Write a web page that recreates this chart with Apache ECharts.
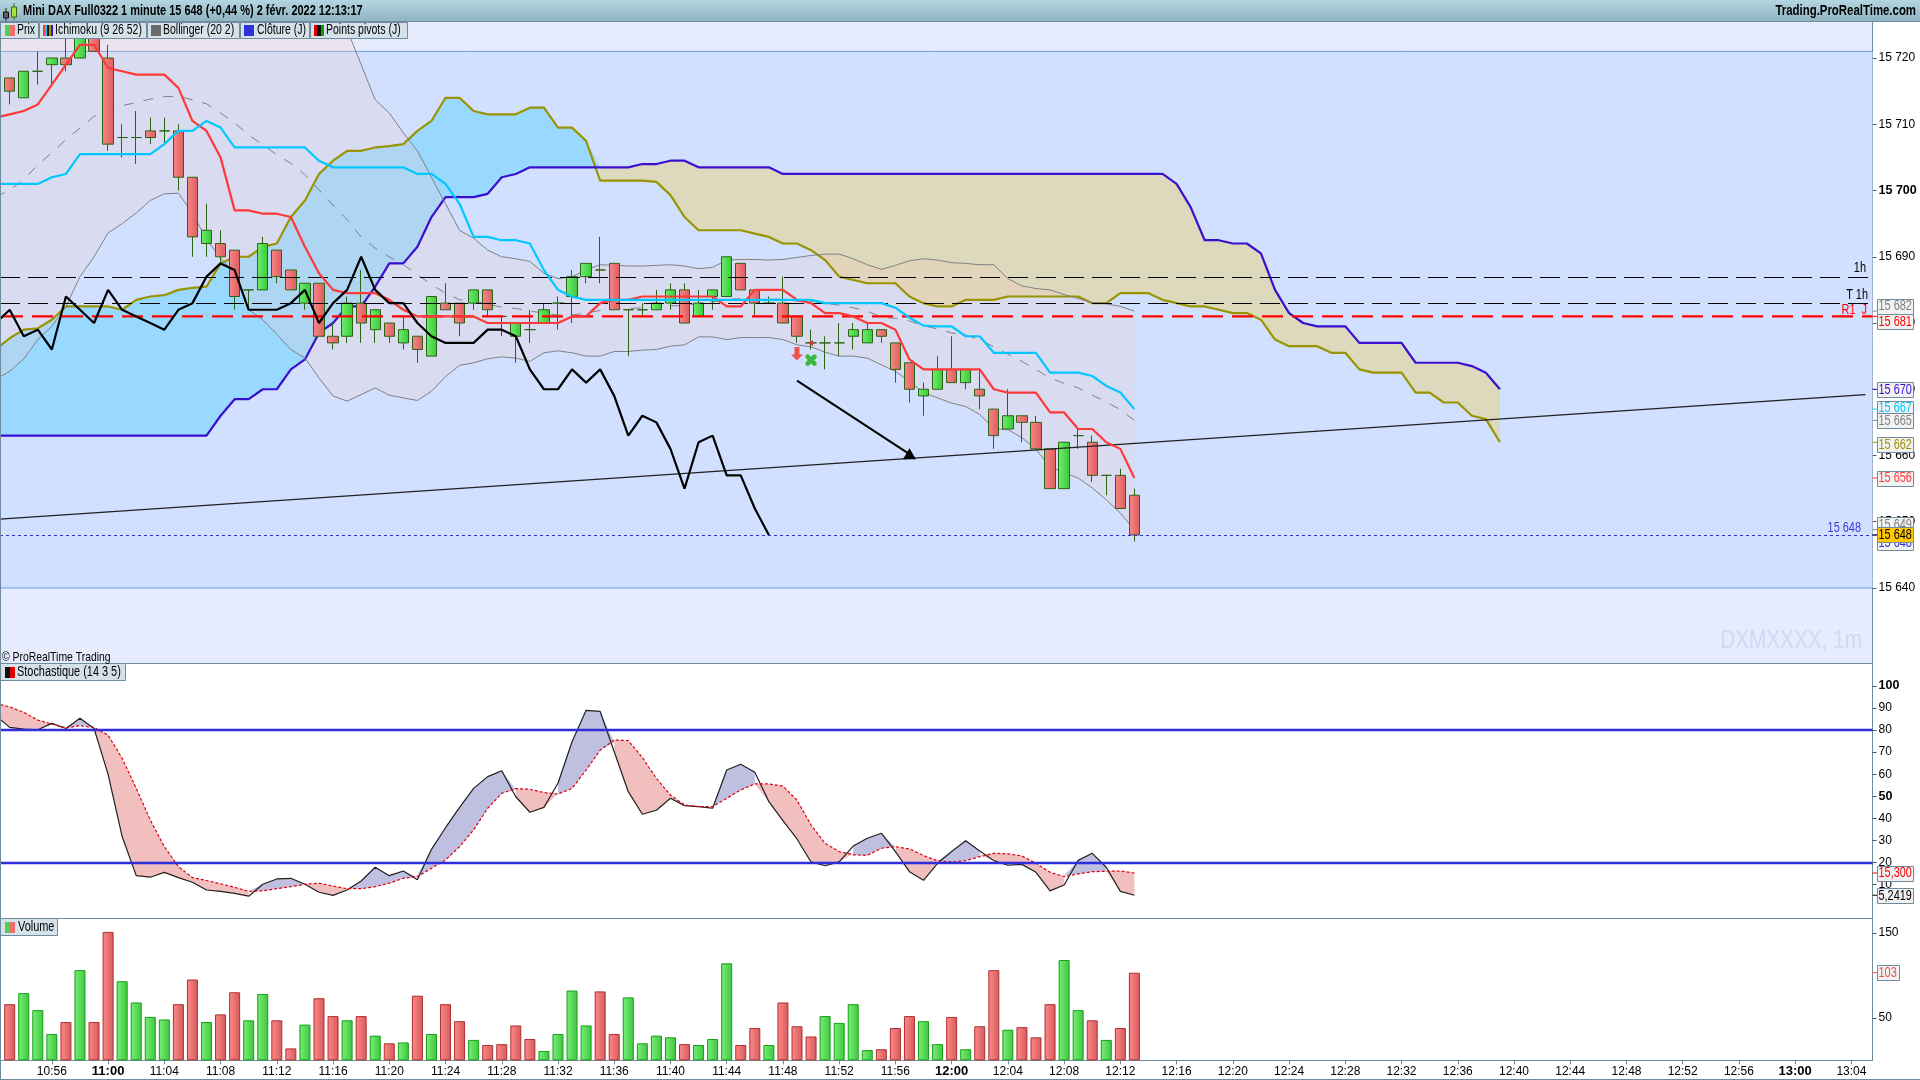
<!DOCTYPE html>
<html><head><meta charset="utf-8"><title>Mini DAX</title>
<style>html,body{margin:0;padding:0;background:#fff}#c{width:1920px;height:1080px}</style>
<script src="https://cdn.jsdelivr.net/npm/echarts@6/dist/echarts.min.js"></script></head>
<body><div id="c"></div>
<script>
const timeLabels=['10:52','10:53','10:54','10:55','10:56','10:57','10:58','10:59','11:00','11:01','11:02','11:03','11:04','11:05','11:06','11:07','11:08','11:09','11:10','11:11','11:12','11:13','11:14','11:15','11:16','11:17','11:18','11:19','11:20','11:21','11:22','11:23','11:24','11:25','11:26','11:27','11:28','11:29','11:30','11:31','11:32','11:33','11:34','11:35','11:36','11:37','11:38','11:39','11:40','11:41','11:42','11:43','11:44','11:45','11:46','11:47','11:48','11:49','11:50','11:51','11:52','11:53','11:54','11:55','11:56','11:57','11:58','11:59','12:00','12:01','12:02','12:03','12:04','12:05','12:06','12:07','12:08','12:09','12:10','12:11','12:12','12:13','12:14','12:15','12:16','12:17','12:18','12:19','12:20','12:21','12:22','12:23','12:24','12:25','12:26','12:27','12:28','12:29','12:30','12:31','12:32','12:33','12:34','12:35','12:36','12:37','12:38','12:39','12:40','12:41','12:42','12:43','12:44','12:45','12:46','12:47','12:48','12:49','12:50','12:51','12:52','12:53','12:54','12:55','12:56','12:57','12:58','12:59','13:00','13:01','13:02','13:03','13:04','13:05'];
// candles: index 0 is 10:52 (off-screen)
const opens=[null,15717,15714,15718,15719,15720,15720,15724,15720,15708,15708,15709,15709,15709,15702,15692,15692,15691,15685,15685,15691,15688,15683,15686,15678,15678,15683,15679,15680,15677,15678,15675,15683,15683,15683,15685,15681,15678,15679,15680,15683,15684,15687,15688,15689,15682,15682,15682,15683,15685,15681,15684,15684,15689,15685,15683,15683,15681,15677,15677,15677,15678,15677,15679,15677,15674,15669,15670,15673,15671,15670,15667,15664,15666,15665,15661,15655,15663,15662,15657,15657,15654];
const closes=[null,15715,15718,15718,15720,15719,15724,15721,15707,15708,15708,15708,15709,15702,15693,15694,15690,15684,15685,15692,15687,15685,15686,15678,15677,15683,15680,15682,15678,15679,15676,15684,15682,15680,15685,15682,15681,15680,15679,15682,15683,15687,15689,15688,15682,15682,15682,15683,15685,15680,15683,15685,15690,15685,15683,15683,15680,15678,15677,15677,15677,15679,15679,15678,15673,15670,15670,15673,15671,15673,15669,15663,15666,15665,15661,15655,15662,15663,15657,15657,15652,15648];
const lows=[null,15713,15714,15716,15716,15718,15720,15721,15706,15705,15704,15707,15707,15700,15690,15690,15689,15682,15682,15685,15686,15685,15682,15678,15676,15677,15677,15677,15677,15676,15674,15675,15682,15678,15682,15681,15678,15674,15677,15680,15679,15680,15686,15686,15682,15675,15681,15682,15682,15680,15681,15682,15684,15685,15681,15683,15680,15677,15676,15673,15675,15676,15677,15677,15671,15668,15666,15670,15671,15670,15667,15661,15664,15662,15661,15655,15655,15661,15656,15654,15652,15647];
const highs=[null,15717,15718,15721,15720,15723,15726,15726,15722,15710,15712,15711,15711,15710,15702,15698,15694,15691,15685,15693,15691,15688,15686,15686,15680,15684,15688,15682,15680,15681,15678,15684,15686,15683,15685,15685,15681,15680,15682,15683,15684,15688,15689,15693,15689,15682,15683,15685,15686,15686,15685,15685,15690,15689,15685,15684,15687,15681,15679,15678,15680,15680,15680,15679,15677,15674,15671,15675,15678,15673,15673,15667,15670,15666,15666,15661,15662,15664,15663,15657,15658,15655];
const tenkan=[15711,15711.5,15712,15713,15716,15719,15722,15722,15718.5,15718,15717.5,15717.5,15717.5,15715.5,15710.5,15709,15705,15697,15697,15696.5,15696.5,15696,15691.5,15687.5,15685,15684.5,15684.5,15684.5,15683.5,15682,15681,15681,15681,15681,15681,15680,15680,15680,15680,15680,15680,15681,15681,15683,15683.5,15683.5,15684,15684,15684,15684,15684,15684,15682.5,15682.5,15685,15685,15685,15683.5,15683,15681.5,15681.5,15681,15680,15680,15679,15674.5,15673,15673,15673,15673,15673,15670,15669.5,15669.5,15669.5,15666.5,15666.5,15664,15664,15662,15661,15656.6];
const kijun=[15701,15701,15701,15701,15702,15702.5,15705.5,15705.5,15705.5,15705.5,15705.5,15705.5,15707,15709,15709,15710.5,15709.5,15706.5,15706.5,15706.5,15706.5,15706.5,15706.5,15704.5,15703.5,15703.5,15703.5,15703.5,15703.5,15703.5,15702.5,15702.5,15701,15698,15693,15693,15692.5,15692.5,15692,15688,15685,15684,15683.5,15683.5,15683.5,15683.5,15683.5,15683.5,15683.5,15683.5,15683.5,15683.5,15683.5,15683.5,15683.5,15683.5,15683.5,15683.5,15683.5,15683,15683,15683,15683,15683,15682.3,15680.8,15679.6,15679.5,15679.5,15678,15678,15675.5,15675.5,15675.5,15675.5,15672.5,15672.5,15672.5,15672,15670.5,15669.5,15667];
const chikou=[15680,15682,15678,15679,15676,15684,15682,15680,15685,15682,15681,15680,15679,15682,15683,15687,15689,15688,15682,15682,15682,15683,15685,15680,15683,15685,15690,15685,15683,15683,15680,15678,15677,15677,15677,15679,15679,15678,15673,15670,15670,15673,15671,15673,15669,15663,15666,15665,15661,15655,15662,15663,15657,15657,15652,15648];
const spanA=[15676,15677.7,15679,15679.2,15680.5,15682.5,15682.5,15682.5,15682.5,15682,15683.5,15684,15684.2,15685,15685.3,15685.5,15689,15690,15690,15691.5,15692,15696,15698.5,15702.5,15704.5,15706,15706,15706.5,15706.7,15707,15709,15710.5,15714,15714,15712,15711.5,15711.5,15711.5,15712.5,15712.5,15709.5,15709.5,15707.5,15701.5,15701.5,15701.5,15701.5,15701.3,15699.3,15696,15694,15694,15694,15694,15693.5,15693,15692,15692,15691,15689.5,15687,15686.5,15686,15686,15686,15684,15683,15682.5,15682.5,15683.5,15683.5,15683.5,15684,15684,15684,15684,15684,15684,15683,15683,15684.5,15684.5,15684.5,15683.5,15683,15682.5,15682.5,15682,15681.5,15681.5,15680.5,15677.5,15676.5,15676.5,15676.5,15675.5,15675.5,15673,15672.5,15672.5,15672.5,15669.5,15669.5,15668,15668,15666,15665.5,15662];
const spanB=[15663,15663,15663,15663,15663,15663,15663,15663,15663,15663,15663,15663,15663,15663,15663,15663,15666,15668.5,15668.5,15670,15670,15673,15674.5,15678.5,15680,15682.5,15682.5,15685.5,15689,15689,15691.5,15696,15699,15699,15699,15699.5,15702,15702.5,15703.5,15703.5,15703.5,15703.5,15703.5,15703.5,15703.5,15703.5,15704,15704,15704.5,15704.5,15703.5,15703.5,15703.5,15703.5,15703.5,15703.5,15702.5,15702.5,15702.5,15702.5,15702.5,15702.5,15702.5,15702.5,15702.5,15702.5,15702.5,15702.5,15702.5,15702.5,15702.5,15702.5,15702.5,15702.5,15702.5,15702.5,15702.5,15702.5,15702.5,15702.5,15702.5,15702.5,15702.5,15702.5,15701,15697.5,15692.5,15692.5,15692,15692,15690.5,15685,15681.5,15680,15679.5,15679.5,15679.5,15677,15677,15677,15677,15674,15674,15674,15674,15673.5,15672.5,15670];
const bollUpper=[15726.5,15727.5,15728.6,15730.3,15731.9,15732.9,15731.8,15732.4,15730.8,15730.6,15730,15729.1,15728.9,15728.8,15730.8,15733.6,15733.6,15732.9,15734.8,15733.3,15732.5,15732.2,15730.1,15728.5,15726.6,15724.3,15719,15713.7,15711.7,15708.7,15706,15702,15698,15694,15692.8,15691,15690,15689.7,15689.3,15687.5,15686.7,15687,15688,15688.8,15688.7,15688.6,15688.6,15688.7,15688.8,15688.6,15688.2,15688.4,15689.5,15689.6,15689.6,15689.5,15689.6,15689.9,15690.2,15690.4,15690.4,15689.7,15688.8,15688.1,15688.7,15689.4,15689.7,15689.5,15689.1,15689,15688.8,15688.8,15686.7,15685.6,15685.2,15685,15684.3,15683.7,15683.1,15682.9,15682.5,15681.8];
const bollLower=[15671.5,15672.7,15674.6,15677.5,15679.5,15682.5,15687,15690,15693.6,15695,15696.6,15698.5,15699.5,15699.6,15696.6,15692.6,15689.8,15687.5,15682,15680.5,15678.3,15676,15674.7,15671.7,15669,15668.2,15669.2,15670.2,15669.1,15668.7,15668.3,15669.7,15671.9,15673.6,15674,15674.6,15674.9,15674.7,15674.2,15675.5,15675.8,15675.5,15675,15675,15675.7,15675.7,15675.9,15676,15676.5,15676.7,15677.9,15677.9,15677.5,15677.8,15677.8,15677.8,15677.5,15676.7,15676.4,15675.6,15675,15675,15674.7,15673.7,15672.7,15671.2,15669.5,15668.7,15667.9,15667.4,15666.2,15664,15663.9,15662.7,15660.9,15658.3,15657.4,15656.6,15655.1,15653.3,15651.3,15648.8];
const bollMid=[15699,15700.1,15701.6,15703.9,15705.7,15707.7,15709.4,15711.2,15712.2,15712.8,15713.3,15713.8,15714.2,15714.2,15713.7,15713.1,15711.7,15710.2,15708.4,15706.9,15705.4,15704.1,15702.4,15700.1,15697.8,15695.6,15693,15691.3,15690,15688.8,15687.3,15685.8,15684.5,15683.5,15683.4,15682.8,15682.4,15682.2,15681.8,15681.5,15681.2,15681.2,15681.5,15681.9,15682.2,15682.2,15682.3,15682.4,15682.6,15682.6,15683,15683.2,15683.5,15683.7,15683.7,15683.6,15683.6,15683.3,15683.3,15683,15682.7,15682.3,15681.8,15680.9,15680.7,15680.3,15679.6,15679.1,15678.5,15678.2,15677.5,15676.4,15675.3,15674.2,15673,15671.7,15670.9,15670.2,15669.1,15668.1,15666.9,15665.3];
const stochK=[86.5,81.2,80.4,80.1,83,80.7,85.3,80.7,59.9,31.8,14.1,13.4,15.6,13.2,11.1,7.6,7,6.1,4.8,10.2,12.6,12.9,10.2,6.6,5.2,7.6,11.7,17.9,14.1,16.2,12.2,26,35.8,45,53.6,58.9,61.6,49.8,42.8,45,55.9,74.7,88.9,88.4,70.2,52.1,41.9,43.7,49.1,45.8,45.3,44.6,61.9,64.5,60.9,47.6,39,30.7,20.3,18.6,20.3,27.5,31,33.3,25,15.9,12,19.7,25,29.9,25.3,20.9,18.8,19.2,15.6,7.2,9.9,21,24.2,17.9,7,5.2419];
const stochD=[92,90.5,88,84.5,82.7,81,81.9,81.2,77.7,67.2,53.6,39.3,27.2,18.2,13.2,11.9,10.4,8.8,7,7.2,8.2,9.1,10.2,10.7,9.4,8.2,8.2,9.1,10.7,12.9,13.7,17.4,21.2,27.2,34.8,44.6,51.4,53.5,53.2,51.7,51,53.6,61.9,70.9,75.5,75.2,67.6,58.1,50.6,46.1,45.3,45.3,49.1,52.9,55.6,55.6,54.6,48.3,37,28.7,25,23.5,23.3,26.5,27.2,26.2,23.2,20.8,20.3,20.9,22.7,24.2,24,23,19.7,15.6,13.7,14.9,15.9,16.1,16.2,15.3];
const volumes=[null,66,79,59,31,45,106,45,151,93,68,51,48,66,95,45,54,80,47,78,47,14,42,73,52,47,52,29,20,21,76,31,66,46,24,18,19,41,25,11,31,82,41,81,31,74,20,29,27,19,18,25,114,18,38,18,68,40,28,52,44,66,12,13,38,52,46,19,51,13,40,106,36,39,27,66,118,59,47,24,38,103];
const volumeUp=[0,0,1,1,1,0,1,0,0,1,1,1,1,0,0,1,0,0,1,1,0,0,1,0,0,1,0,1,0,1,0,1,0,0,1,0,0,0,0,1,1,1,1,0,0,1,1,1,1,0,1,1,1,0,0,1,0,0,0,1,1,1,1,0,0,0,1,1,0,1,0,0,1,0,0,0,1,1,0,1,0,0];
const priceTicks=[15640,15650,15660,15670,15680,15690,15700,15710,15720];
const stochTicks=[10,20,30,40,50,60,70,80,90,100];
const volumeTicks=[50,150];
const stochLevels=[80,20];
const bandLevels=[15721,15640];
const blackLevels=[15687,15683];
const pivotLevel=15681;
const lastPrice=15648;
// trend line and drawn arrow [category index, price]
const trendLine=[[0,15650.36],[133.46,15669.2]];
const arrowLine=[[57,15671.3],[64.5,15660.2]];
const tagPrices=[15681.8,15681,15670,15667,15665.3,15662,15656.6,15648.8,15648,15648];
const tagTexts=['15 682','15 681','15 670','15 667','15 665','15 662','15 656','15 649','15 648','15 648'];
const tagColors=['#808080','#FF0000','#3A0FD0','#00C8FF','#808080','#9A9400','#FF3838','#808080','#3030D0','#000000'];
const tagShifts=[-5,5,0,-1,0,2,0,-5,8,0];
const stochTagValues=[15.3,5.2419];
const stochTagTexts=['15,300','5,2419'];
const stochTagColors=['#FF0000','#000000'];
const volTagValues=[103];
const volTagTexts=['103'];
const volTagColors=['#F05050'];

const FONT='"Liberation Sans",Arial,sans-serif';
const F14='14px '+FONT;
const NARROW=0.78;
const EDGE='#708B9B';
const grad=(a,b)=>({type:'linear',x:0,y:0,x2:1,y2:0,colorStops:[{offset:0,color:a},{offset:1,color:b}]});
const vgrad=(a,b)=>({type:'linear',x:0,y:0,x2:0,y2:1,colorStops:[{offset:0,color:a},{offset:1,color:b}]});

function fillBetween(api,a,b,colorAbove,colorBelow){
  const kids=[];const n=Math.min(a.length,b.length);
  let up=[],dn=[],sign=null;
  const flush=()=>{if(up.length>1){kids.push({type:'polygon',shape:{points:up.concat(dn.slice().reverse()).map(p=>api.coord(p))},style:{fill:sign>0?colorAbove:colorBelow,stroke:null}});}up=[];dn=[];};
  for(let i=0;i<n;i++){
    const d=a[i]-b[i];
    const s=d>=0?1:-1;
    if(sign!==null&&s!==sign){
      const d0=a[i-1]-b[i-1];const t=d0/(d0-d);
      const p=[i-1+t,a[i-1]+t*(a[i]-a[i-1])];
      up.push(p);dn.push(p);flush();up.push(p);dn.push(p);
    }
    sign=s;up.push([i,a[i]]);dn.push([i,b[i]]);
  }
  flush();
  return {type:'group',children:kids};
}
const once=(grid,z,render,clip=true)=>({type:'custom',coordinateSystem:'cartesian2d',xAxisIndex:grid,yAxisIndex:grid,z,clip,silent:true,animation:false,data:[[8,grid===0?15680:50]],renderItem:render,encode:{x:0,y:1}});
const line=(name,data,color,width,z,extra={})=>Object.assign({name,type:'line',xAxisIndex:0,yAxisIndex:0,data,showSymbol:false,symbol:'none',smooth:false,z,animation:false,silent:true,lineStyle:{color,width}},extra);
const txt=(text,x,y,fill,font,align='left',sx=NARROW)=>({type:'text',x,y,scaleX:sx,style:{text,x:0,y:0,fill,font,align,verticalAlign:'middle'}});

function bandRender(params,api){
  const c=params.coordSys;const kids=[];
  const y0=api.coord([0,bandLevels[0]])[1],y1=api.coord([0,bandLevels[1]])[1];
  kids.push({type:'rect',shape:{x:c.x,y:y0,width:c.width,height:y1-y0},style:{fill:'#D0E0FE'}});
  [y0,y1].forEach(y=>kids.push({type:'line',shape:{x1:c.x,y1:y,x2:c.x+c.width,y2:y},style:{stroke:'#6F9FE8',lineWidth:1}}));
  return {type:'group',children:kids};
}
function levelsRender(params,api){
  const c=params.coordSys;const kids=[];const xr=c.x+c.width;
  blackLevels.forEach(v=>{const y=Math.round(api.coord([0,v])[1])+.5;kids.push({type:'line',shape:{x1:0,y1:y,x2:1869,y2:y},style:{stroke:'#000',lineWidth:1,lineDash:[20,8]}});});
  const yp=api.coord([0,pivotLevel])[1];
  kids.push({type:'line',shape:{x1:2,y1:yp,x2:xr,y2:yp},style:{stroke:'#FF0000',lineWidth:2.2,lineDash:[21,9]}});
  const yl=Math.round(api.coord([0,lastPrice])[1])+.5;
  kids.push({type:'line',shape:{x1:0,y1:yl,x2:xr,y2:yl},style:{stroke:'#3030D0',lineWidth:1,lineDash:[3,3]}});
  const y1=api.coord([0,blackLevels[0]])[1],y2=api.coord([0,blackLevels[1]])[1];
  kids.push(txt('1h',1866,y1-8,'#000',F14,'right'));
  kids.push(txt('T 1h',1868,y2-8,'#000',F14,'right'));
  kids.push(txt('R1  J',1867,yp-6.5,'#FF0000',F14,'right'));
  kids.push(txt('15 648',1861,yl-7,'#3A3AD8',F14,'right'));
  return {type:'group',children:kids};
}
function trendRender(params,api){
  const a=api.coord(trendLine[0]),b=api.coord(trendLine[1]);
  return {type:'line',shape:{x1:a[0],y1:a[1],x2:b[0],y2:b[1]},style:{stroke:'#202020',lineWidth:1.2}};
}
function arrowRender(params,api){
  const a=api.coord(arrowLine[0]),b=api.coord(arrowLine[1]);
  return {type:'group',children:[
    {type:'line',shape:{x1:a[0],y1:a[1],x2:b[0],y2:b[1]},style:{stroke:'#000',lineWidth:2}},
    {type:'polygon',shape:{points:[[b[0],b[1]-6],[b[0]+6.5,b[1]+5],[b[0]-6.5,b[1]+5]]},style:{fill:'#000'}}
  ]};
}
function markersRender(params,api){
  const a=api.coord([57,15675.4]),g=api.coord([58,15674.4]),t=api.coord([57.5,15677]);
  const c=g;
  return {type:'group',children:[
    {type:'polygon',shape:{points:[[a[0]-2.5,a[1]-6.5],[a[0]+2.5,a[1]-6.5],[a[0]+2.5,a[1]+1],[a[0]+6,a[1]+1],[a[0],a[1]+7],[a[0]-6,a[1]+1],[a[0]-2.5,a[1]+1]]},style:{fill:'#F05050'}},
    {type:'polygon',shape:{points:[[t[0]-3,t[1]],[t[0]+2,t[1]-3],[t[0]+2,t[1]+3]]},style:{fill:'#D03040'}},
    {type:'line',shape:{x1:c[0]-3.5,y1:c[1]-3.5,x2:c[0]+3.5,y2:c[1]+3.5},style:{stroke:'#3CB83C',lineWidth:4.5,lineCap:'round'}},
    {type:'line',shape:{x1:c[0]+3.5,y1:c[1]-3.5,x2:c[0]-3.5,y2:c[1]+3.5},style:{stroke:'#3CB83C',lineWidth:4.5,lineCap:'round'}}
  ]};
}
function tagsRender(values,texts,colors,shifts,width){
  return (params,api)=>{
    const c=params.coordSys;const xr=c.x+c.width;const kids=[];
    values.forEach((v,i)=>{
      const y=api.coord([0,v])[1];const cy=y+(shifts?shifts[i]:0);
      const yellow=colors[i]==='#000000'&&texts[i]==='15 648';
      kids.push({type:'line',shape:{x1:xr,y1:y,x2:xr+5,y2:y},style:{stroke:colors[i],lineWidth:1}});
      kids.push({type:'rect',shape:{x:xr+5,y:Math.round(cy-7.5)+.5,width,height:15},style:{fill:yellow?'#FFC800':'#F2F2F2',stroke:EDGE,lineWidth:1}});
      kids.push(txt(texts[i],xr+6,cy+.5,colors[i],F14));
    });
    return {type:'group',children:kids};
  };
}
const cat={type:'category',data:timeLabels,boundaryGap:true};
const hiddenX=g=>Object.assign({},cat,{gridIndex:g,show:false});
const axisY=(g,min,max,ticks,bolds,fmt)=>({type:'value',gridIndex:g,position:'right',min,max,splitLine:{show:false},axisLine:{show:true,lineStyle:{color:EDGE,width:1}},
  axisTick:{show:true,length:4,lineStyle:{color:'#555'},customValues:ticks},
  axisLabel:{customValues:ticks,margin:6,color:'#000',fontFamily:FONT,fontSize:12,formatter:v=>bolds.includes(v)?'{b|'+fmt(v)+'}':fmt(v),rich:{b:{fontFamily:FONT,fontSize:12.5,fontWeight:'bold',color:'#000'}}}});
const spaced=v=>String(v).replace(/^(\d\d)(\d{3})$/,'$1 $2');

const btn=(x,w,y,h)=>({type:'rect',z:100,shape:{x:x+.5,y:y+.5,width:w,height:h},style:{fill:'#D6E2EA',stroke:EDGE,lineWidth:1}});
const box=(x,y,w,h,fill)=>({type:'rect',z:101,shape:{x,y,width:w,height:h},style:{fill}});
const gtxt=(text,x,y,font,sx=NARROW,fill='#000',align='left')=>({type:'text',z:101,x,y,scaleX:sx,style:{text,x:0,y:0,font,fill,align,verticalAlign:'middle'}});

const gridBase={left:-11.4,width:1883.9,show:true,borderWidth:0,containLabel:false,outerBoundsMode:'none'};
const option={
  animation:false,backgroundColor:'#FFFFFF',
  grid:[
    Object.assign({},gridBase,{top:22,height:641.3,backgroundColor:'#E6ECFE'}),
    Object.assign({},gridBase,{top:663.3,height:255,backgroundColor:'#FFFFFF'}),
    Object.assign({},gridBase,{top:918.3,height:142,backgroundColor:'#FFFFFF'})
  ],
  xAxis:[hiddenX(0),hiddenX(1),Object.assign({},cat,{gridIndex:2,
    axisLine:{show:true,lineStyle:{color:EDGE,width:1}},
    axisTick:{show:true,length:4,alignWithLabel:true,lineStyle:{color:EDGE},interval:(i,v)=>+v.slice(3)%4===0&&i>0},
    axisLabel:{show:true,color:'#000',fontFamily:FONT,fontSize:12,margin:5,hideOverlap:false,interval:(i,v)=>+v.slice(3)%4===0&&i>0,
      formatter:v=>v.endsWith(':00')?'{b|'+v+'}':v,rich:{b:{fontFamily:FONT,fontSize:13,fontWeight:'bold',color:'#000'}}}})],
  yAxis:[
    axisY(0,15628.63,15725.44,priceTicks,[15700],spaced),
    axisY(1,-5.2,110.2,stochTicks,[50,100],String),
    axisY(2,0,167,volumeTicks,[],String)
  ],
  series:[
    once(0,1,bandRender),
    once(0,1,(p,api)=>fillBetween(api,spanA,spanB,'#9AD9FF','#DCD9BC')),
    once(0,1,(p,api)=>({type:'polygon',shape:{points:bollUpper.map((v,i)=>api.coord([i,v])).concat(bollLower.map((v,i)=>api.coord([i,v])).reverse())},style:{fill:'rgba(255,199,184,0.2)'}})),
    line('Span A',spanA,'#9A9400',2.2,2),
    line('Span B',spanB,'#3A0FD0',2.2,2),
    line('Upper',bollUpper,'#808080',1,2),
    line('Lower',bollLower,'#808080',1,2),
    line('Middle',bollMid,'#808080',1,2,{lineStyle:{color:'#808080',width:1,type:[10,10]}}),
    {type:'candlestick',xAxisIndex:0,yAxisIndex:0,barWidth:10.8,z:3,silent:true,animation:false,
      data:opens.map((o,i)=>o===null?'-':[o,closes[i],lows[i],highs[i]]),
      itemStyle:{color:grad('#70EE70','#38C838'),color0:grad('#F88888','#DC5C5C'),borderColor:'#2D6414',borderColor0:'#2D6414',borderColorDoji:'#2D6414',borderWidth:1}},
    once(0,4,trendRender),
    once(0,4,levelsRender),
    line('Tenkan',tenkan,'#FF3838',2.2,5),
    line('Kijun',kijun,'#00C8FF',2.2,5),
    line('Chikou',chikou,'#000000',2.2,6),
    once(0,6,arrowRender),
    once(0,6,markersRender),
    once(0,20,tagsRender(tagPrices,tagTexts,tagColors,tagShifts,36),false),

    once(1,2,(p,api)=>fillBetween(api,stochK,stochD,'#BFBFE0','#F2BFBF')),
    {name:'%K',type:'line',xAxisIndex:1,yAxisIndex:1,data:stochK,showSymbol:false,symbol:'none',z:3,animation:false,silent:true,lineStyle:{color:'#202020',width:1.2},
      markLine:{silent:true,symbol:'none',animation:false,label:{show:false},lineStyle:{color:'#2E2EDC',width:2.4,type:'solid'},data:stochLevels.map(v=>({yAxis:v}))}},
    {name:'%D',type:'line',xAxisIndex:1,yAxisIndex:1,data:stochD,showSymbol:false,symbol:'none',z:3,animation:false,silent:true,lineStyle:{color:'#E00010',width:1.2,type:[3,2]}},
    once(1,20,tagsRender(stochTagValues,stochTagTexts,stochTagColors,null,36),false),

    {name:'Volume',type:'bar',xAxisIndex:2,yAxisIndex:2,barWidth:11,z:3,silent:true,animation:false,
      data:volumes.map((v,i)=>v===null?'-':{value:v,itemStyle:{color:volumeUp[i]?grad('#78F078','#40C440'):grad('#FF8A8A','#D45A5A'),borderColor:volumeUp[i]?'#14A014':'#B03030',borderWidth:1}})},
    once(2,20,tagsRender(volTagValues,volTagTexts,volTagColors,null,22),false)
  ],
  graphic:[
    {type:'rect',z:99,shape:{x:0,y:0,width:1920,height:21.5},style:{fill:vgrad('#B4D6E0','#8EB3C1')}},
    {type:'line',z:99,shape:{x1:0,y1:21.5,x2:1920,y2:21.5},style:{stroke:EDGE,lineWidth:1}},
    {type:'line',z:99,shape:{x1:0,y1:663.5,x2:1872,y2:663.5},style:{stroke:EDGE,lineWidth:1}},
    {type:'line',z:99,shape:{x1:0,y1:918.5,x2:1872,y2:918.5},style:{stroke:EDGE,lineWidth:1}},
    {type:'line',z:99,shape:{x1:0.5,y1:22,x2:0.5,y2:1079},style:{stroke:EDGE,lineWidth:1}},
    {type:'line',z:99,shape:{x1:0,y1:1079.5,x2:1920,y2:1079.5},style:{stroke:EDGE,lineWidth:1}},
    {type:'line',z:101,shape:{x1:6,y1:8,x2:6,y2:21},style:{stroke:'#222',lineWidth:1}},
    {type:'rect',z:101,shape:{x:3.5,y:12,width:5,height:6},style:{fill:'#606060',stroke:'#111',lineWidth:1}},
    {type:'line',z:101,shape:{x1:14,y1:3,x2:14,y2:20},style:{stroke:'#3A6A10',lineWidth:1}},
    {type:'rect',z:101,shape:{x:11.5,y:7,width:5,height:10},style:{fill:'#A6E63C',stroke:'#3A6A10',lineWidth:1}},
    gtxt('Mini DAX Full0322 1 minute 15 648 (+0,44 %) 2 févr. 2022 12:13:17',23,11.5,'bold 14px '+FONT,0.783),
    gtxt('Trading.ProRealTime.com',1916,11.5,'bold 14px '+FONT,0.815,'#000','right'),
    btn(0,38,22,16),btn(39,107,22,16),btn(147,92,22,16),btn(240,69,22,16),btn(310,97,22,16),
    box(5,25,5,11,'#50D050'),box(10,25,5,11,'#EE6E6E'),
    box(43,25,2,11,'#FF3838'),box(45,25,2,11,'#00C8FF'),box(47,25,2,11,'#101010'),box(49,25,2,11,'#9A9400'),box(51,25,2,11,'#3A0FD0'),
    box(151,25,10,11,'#6A6A6A'),
    box(244,25,10,11,'#3030DC'),
    box(314,25,3,11,'#E00000'),box(317,25,4,11,'#101010'),box(321,25,3,11,'#00A000'),
    gtxt('Prix',17,30.5,F14,0.75),
    gtxt('Ichimoku (9 26 52)',55,30.5,F14,0.75),
    gtxt('Bollinger (20 2)',163,30.5,F14,0.75),
    gtxt('Clôture (J)',257,30.5,F14,0.75),
    gtxt('Points pivots (J)',326,30.5,F14,0.75),
    gtxt('© ProRealTime Trading',2,657,'13.5px '+FONT,0.77),
    gtxt('DXMXXXX, 1m',1862,641.5,'25px '+FONT,0.83,'#CCDAF4','right'),
    btn(0,125,663,17),box(5,667,5,11,'#101010'),box(10,667,5,11,'#E00000'),
    gtxt('Stochastique (14 3 5)',17,672,F14,0.78),
    btn(0,57,918,17),box(5,922,5,11,'#50D050'),box(10,922,5,11,'#EE6E6E'),
    gtxt('Volume',18,927,F14,0.78)
  ]
};
const chart=echarts.init(document.getElementById('c'),null,{renderer:'canvas',width:1920,height:1080});
chart.setOption(option);
</script></body></html>
